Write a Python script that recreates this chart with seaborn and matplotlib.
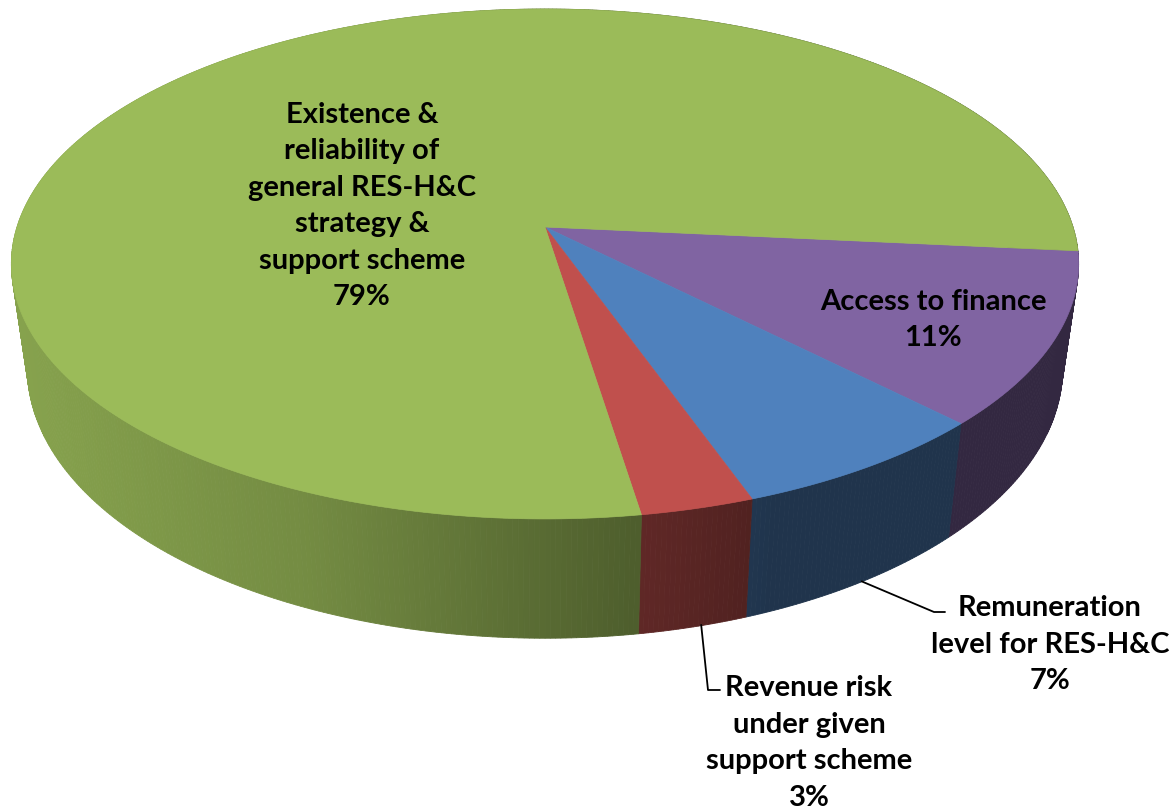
import numpy as np
import matplotlib
matplotlib.use("Agg")
import matplotlib.pyplot as plt
from matplotlib.patches import Polygon
import seaborn as sns

# slice data, clockwise from the right-hand edge
labels = ["Access to finance",
          "Remuneration\nlevel for RES-H&C",
          "Revenue risk\nunder given\nsupport scheme",
          "Existence &\nreliability of\ngeneral RES-H&C\nstrategy &\nsupport scheme"]
shares = [11, 7, 3, 79]
colors = ["#8064A2", "#4F81BD", "#C0504D", "#9BBB59"]

sns.set_theme(style="white")
plt.rcParams['font.family'] = ['Lato', 'DejaVu Sans']

# perspective geometry of the 3d pie (pixel space)
cx, cy = 545, 228
A, B, k = 528, 249.6, 0.145
depth = 102
side_shrink = 0.97
start = 5.4


def rim(theta, bottom=False):
    t = np.radians(theta)
    u, v = np.cos(t), np.sin(t)
    w = 1 - k * v
    if bottom:
        return cx + A * side_shrink * u / w, cy + (B * v + depth) / w
    return cx + A * u / w, cy + B * v / w


def shade(x):
    return np.interp(x, [10, 300, 640, 780, 1100], [0.87, 0.75, 0.50, 0.40, 0.40])


fig = plt.figure(figsize=(11.72, 8.12), dpi=100)
ax = fig.add_axes([0, 0, 1, 1])
ax.set_xlim(0, 1172)
ax.set_ylim(812, 0)
ax.axis('off')

pal = sns.color_palette(colors)
bounds = start + np.concatenate([[0], np.cumsum(shares)]) * 3.6

# side walls, drawn back to front as thin strips
strips = []
for i, c in enumerate(pal):
    th = np.linspace(bounds[i], bounds[i + 1], int((bounds[i + 1] - bounds[i]) * 2) + 2)
    for a0, a1 in zip(th[:-1], th[1:]):
        xt0, yt0 = rim(a0)
        xt1, yt1 = rim(a1)
        xb0, yb0 = rim(a0, True)
        xb1, yb1 = rim(a1, True)
        f = shade((xt0 + xt1) / 2)
        col = tuple(np.array(c) * f)
        depth_key = np.sin(np.radians((a0 + a1) / 2))
        strips.append((depth_key, [(xt0, yt0), (xt1, yt1), (xb1, yb1), (xb0, yb0)], col))
strips.sort(key=lambda s: s[0])
for _, pts, col in strips:
    ax.add_patch(Polygon(pts, closed=True, facecolor=col, edgecolor=col, lw=0.6))

# top faces
for i, c in enumerate(pal):
    th = np.linspace(bounds[i], bounds[i + 1], 300)
    xs, ys = rim(th)
    pts = [(cx, cy)] + list(zip(xs, ys))
    ax.add_patch(Polygon(pts, closed=True, facecolor=c, edgecolor=c, lw=0.5))

# labels
txt = dict(ha='center', va='center', fontsize=21, fontweight='bold', color='black', linespacing=1.5)
ax.text(362, 206, f"{labels[3]}\n{shares[3]}%", **txt)
ax.text(933, 320, f"{labels[0]}\n{shares[0]}%", **txt)
ax.text(1050, 645, f"{labels[1]}\n{shares[1]}%", **txt)
ax.text(809, 743, f"{labels[2]}\n{shares[2]}%", **txt)

# leader lines from the side wall of the small slices
mid_blue = (bounds[1] + bounds[2]) / 2
mid_red = (bounds[2] + bounds[3]) / 2
bx, by = rim(mid_blue, True)
rx, ry = rim(mid_red, True)
ax.plot([bx + 4, 934, 945], [by - 2, 613, 613], color='black', lw=1.3)
ax.plot([rx + 8, 708, 720], [ry - 2, 691, 691], color='black', lw=1.3)

fig.savefig("out.png", dpi=100)
